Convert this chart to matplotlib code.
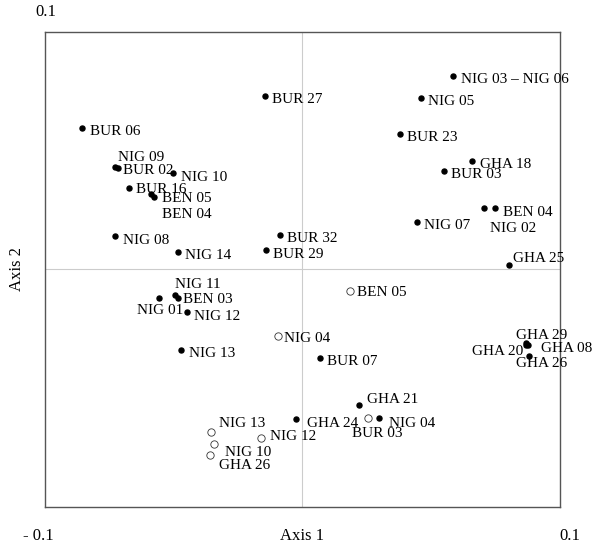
import matplotlib; matplotlib.use("Agg")
import matplotlib.pyplot as plt
plt.rcParams.update({"font.family": ["Liberation Serif", "DejaVu Serif"], "font.size": 11})

# filled points (axis 1, axis 2)
filled_labels = ["BUR 06", "NIG 09", "BUR 02", "NIG 10", "BUR 16", "BEN 05", "BEN 04", "NIG 08",
                 "NIG 14", "BUR 32", "BUR 29", "BUR 27", "NIG 01", "NIG 11", "BEN 03", "NIG 12",
                 "NIG 13", "BUR 07", "GHA 24", "GHA 21", "NIG 04", "NIG 03 \u2013 NIG 06", "NIG 05",
                 "BUR 23", "GHA 18", "BUR 03", "BEN 04", "NIG 02", "NIG 07", "GHA 25",
                 "GHA 29", "GHA 20", "GHA 08", "GHA 26"]
filled_x = [-0.0854, -0.0728, -0.0716, -0.0501, -0.0671, -0.0587, -0.0574, -0.0727,
            -0.0484, -0.0087, -0.0142, -0.0145, -0.0556, -0.0494, -0.0482, -0.0448,
            -0.0470, 0.0068, -0.0023, 0.0221, 0.0298, 0.0586, 0.0460,
            0.0379, 0.0659, 0.0549, 0.0749, 0.0704, 0.0444, 0.0802,
            0.0870, 0.0870, 0.0874, 0.0881]
filled_y = [0.0597, 0.0432, 0.0426, 0.0406, 0.0342, 0.0318, 0.0307, 0.0141,
            0.0074, 0.0147, 0.0082, 0.0731, -0.0121, -0.0109, -0.0120, -0.0180,
            -0.0338, -0.0371, -0.0629, -0.0571, -0.0624, 0.0816, 0.0723,
            0.0571, 0.0458, 0.0416, 0.0258, 0.0260, 0.0201, 0.0020,
            -0.0309, -0.0320, -0.0316, -0.0364]

# open points
open_labels = ["BEN 05", "NIG 04", "NIG 13", "NIG 10", "GHA 26", "NIG 12", "BUR 03"]
open_x = [0.0185, -0.0096, -0.0354, -0.0342, -0.0359, -0.0161, 0.0254]
open_y = [-0.0089, -0.0280, -0.0683, -0.0736, -0.0782, -0.0711, -0.0624]

# label offsets in pixels (dx, dy, ha); default is right of the point
default_off = (7.5, -4, "left")
filled_off = {1: (3, 9, "left"), 2: (5, -2.5, "left"), 4: (7, -1, "left"), 5: (11, -5, "left"),
              6: (8, -18, "left"), 12: (1, -12.5, "center"), 13: (0, 10.5, "left"),
              14: (5, -1.3, "left"), 19: (7.5, 6, "left"), 18: (11, -5, "left"),
              20: (10, -6.3, "left"), 27: (6.3, -20.6, "left"), 29: (3.7, 6.4, "left"),
              30: (-10.5, 7, "left"), 31: (-3, -6, "right"), 32: (13.5, -3.5, "left"),
              33: (-13.3, -8, "left")}
open_off = {0: (7, -2, "left"), 1: (6, -3, "left"), 2: (8, 8.4, "left"), 3: (11, -8, "left"),
            4: (9.6, -10.4, "left"), 5: (9, 1.6, "left"), 6: (9, -15.6, "center")}

fig = plt.figure(figsize=(6, 5.51), dpi=100)
ax = fig.add_axes([0.0745, 0.0799, 0.8588, 0.862])
ax.set_xlim(-0.1, 0.1); ax.set_ylim(-0.1, 0.1)
ax.set_xticks([]); ax.set_yticks([])
for s in ax.spines.values():
    s.set_color("#555555"); s.set_linewidth(1.0)
ax.axvline(0, color="#cccccc", lw=0.8, zorder=0)
ax.axhline(0, color="#cccccc", lw=0.8, zorder=0)

ax.scatter(filled_x, filled_y, s=13, color="black", zorder=3)
ax.scatter(open_x, open_y, s=28, facecolor="white", edgecolor="#333333", lw=0.6, zorder=3)

for i, lab in enumerate(filled_labels):
    dx, dy, ha = filled_off.get(i, default_off)
    ax.annotate(lab, (filled_x[i], filled_y[i]), xytext=(dx, dy), textcoords="offset pixels",
                ha=ha, va="center", fontsize=11)
for i, lab in enumerate(open_labels):
    dx, dy, ha = open_off.get(i, default_off)
    ax.annotate(lab, (open_x[i], open_y[i]), xytext=(dx, dy), textcoords="offset pixels",
                ha=ha, va="center", fontsize=11)

fig.text(46 / 600, 1 - 12 / 551, "0.1", ha="center", va="center", fontsize=12)
fig.text(38 / 600, 1 - 536 / 551, "- 0.1", ha="center", va="center", fontsize=12)
fig.text(570 / 600, 1 - 536 / 551, "0.1", ha="center", va="center", fontsize=12)
fig.text(302 / 600, 1 - 536 / 551, "Axis 1", ha="center", va="center", fontsize=12)
fig.text(17 / 600, 1 - 269 / 551, "Axis 2", ha="center", va="center", rotation=90, fontsize=12)

fig.savefig("out.png", dpi=100)
